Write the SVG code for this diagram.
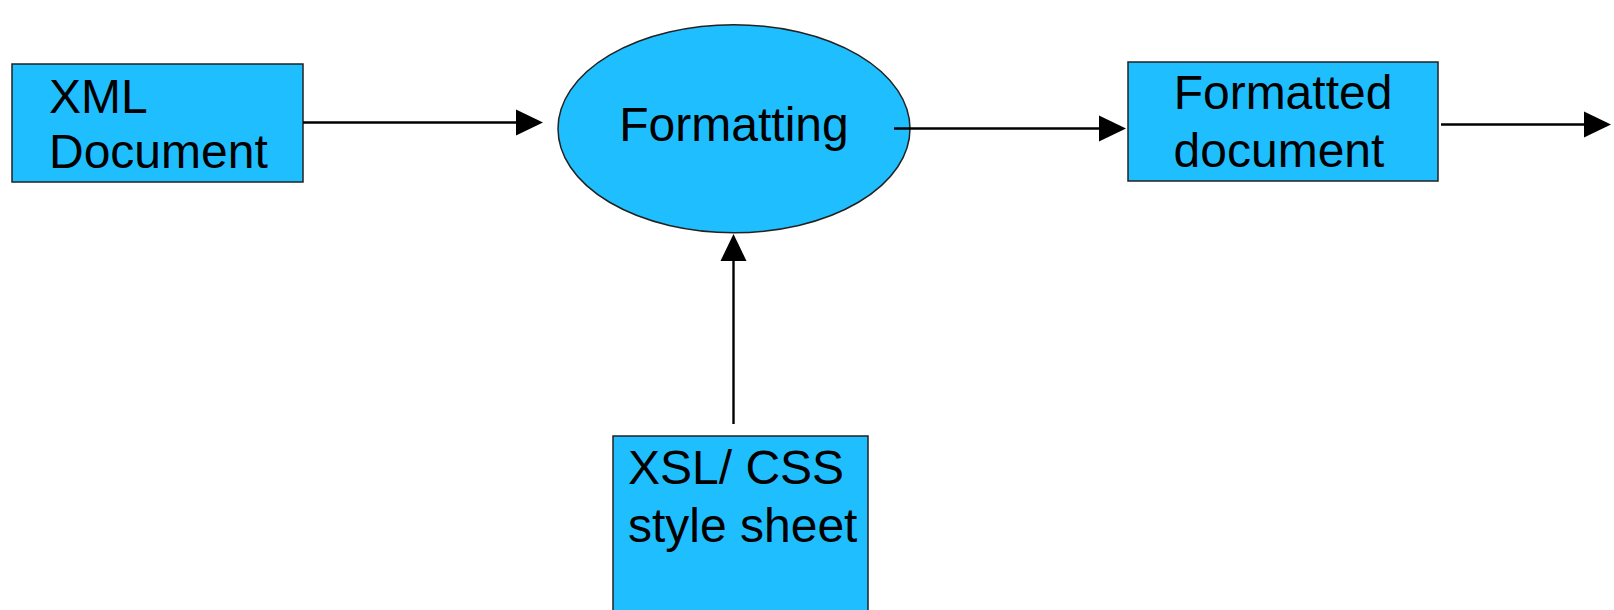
<svg xmlns="http://www.w3.org/2000/svg" width="1614" height="610" viewBox="0 0 1614 610">
<style>
.box{fill:#1FBFFF;stroke:#222;stroke-width:1.5}
.t{font-family:"Liberation Sans",Arial,sans-serif;font-size:48px;fill:#000}
.c{stroke:#000;stroke-width:2.4;fill:none}
</style>
<defs>
<marker id="ah" markerUnits="userSpaceOnUse" markerWidth="28" markerHeight="26" refX="1" refY="13" orient="auto" overflow="visible">
<path d="M0,0 L27,13 L0,26 Z" fill="#000"/>
</marker>
</defs>
<rect width="1614" height="610" fill="#fff"/>
<g id="xml">
<rect class="box" x="12" y="64" width="291" height="118"/>
<text class="t" x="49" y="113">XML</text>
<text class="t" x="49" y="168">Document</text>
</g>
<g id="formatting">
<ellipse class="box" cx="734" cy="128.7" rx="176" ry="104"/>
<text class="t" x="734" y="141" text-anchor="middle">Formatting</text>
</g>
<g id="formatted">
<rect class="box" x="1128" y="62" width="310" height="119"/>
<text class="t" x="1283" y="109" text-anchor="middle">Formatted</text>
<text class="t" x="1279" y="166.5" text-anchor="middle">document</text>
</g>
<g id="xsl">
<rect class="box" x="613" y="436" width="255" height="200"/>
<text class="t" x="628" y="484">XSL/ CSS</text>
<text class="t" x="628" y="541.5">style sheet</text>
</g>
<g id="connectors">
<line class="c" x1="303" y1="122.5" x2="517" y2="122.5" marker-end="url(#ah)"/>
<line class="c" x1="894" y1="128.5" x2="1100" y2="128.5" marker-end="url(#ah)"/>
<line class="c" x1="1441" y1="124.5" x2="1585" y2="124.5" marker-end="url(#ah)"/>
<line class="c" x1="733.5" y1="424" x2="733.5" y2="260" marker-end="url(#ah)"/>
</g>
</svg>
